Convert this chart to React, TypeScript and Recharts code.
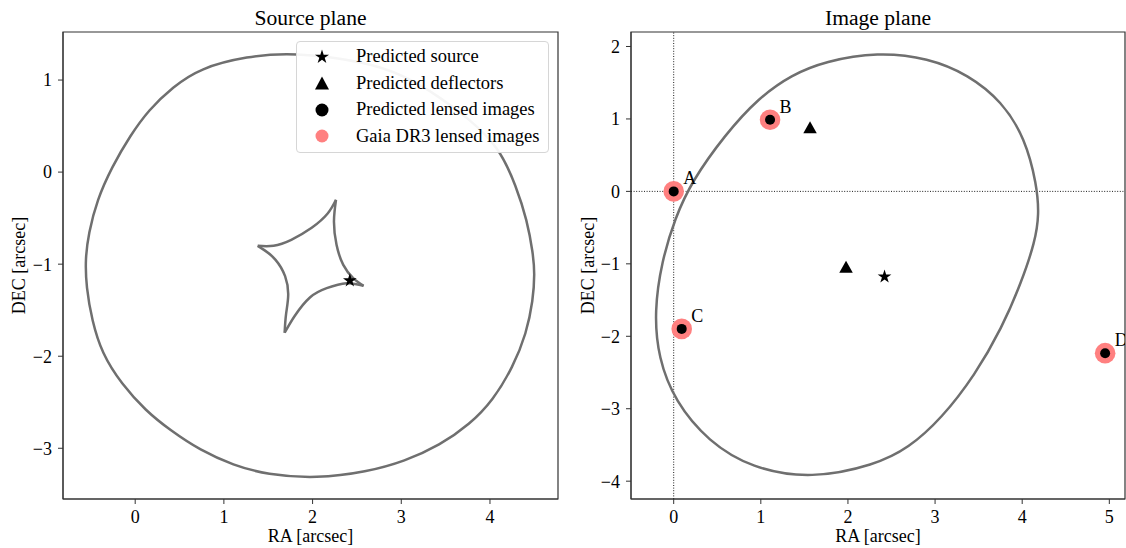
import React from 'react';
import { ComposedChart, Line, Scatter, XAxis, YAxis, ReferenceLine, ReferenceArea, Legend, Label } from 'recharts';

const FONT = '"Liberation Serif", "Times New Roman", Times, serif';
const CURVE = '#6f6f6f';
const AXIS = '#333333';
const RED = '#ff8080';

// ---------- Source plane ----------
const sourceCaustic = [
  { x: -0.563, y: -0.946 }, { x: -0.526, y: -0.667 }, { x: -0.431, y: -0.304 }, { x: -0.262, y: 0.058 },
  { x: -0.056, y: 0.397 }, { x: 0.150, y: 0.674 }, { x: 0.422, y: 0.924 }, { x: 0.732, y: 1.130 },
  { x: 1.258, y: 1.258 }, { x: 1.783, y: 1.301 }, { x: 2.571, y: 1.203 }, { x: 3.021, y: 1.058 },
  { x: 3.435, y: 0.815 }, { x: 3.753, y: 0.587 }, { x: 4.103, y: 0.275 }, { x: 4.298, y: -0.16 },
  { x: 4.418, y: -0.522 }, { x: 4.486, y: -0.884 }, { x: 4.505, y: -1.101 }, { x: 4.486, y: -1.391 },
  { x: 4.411, y: -1.753 }, { x: 4.26, y: -2.116 }, { x: 4.035, y: -2.478 }, { x: 3.773, y: -2.739 },
  { x: 3.435, y: -2.967 }, { x: 3.041, y: -3.141 }, { x: 2.609, y: -3.258 }, { x: 2.046, y: -3.329 },
  { x: 1.483, y: -3.286 }, { x: 1.107, y: -3.185 }, { x: 0.732, y: -3.022 }, { x: 0.394, y: -2.804 },
  { x: 0.118, y: -2.592 }, { x: -0.155, y: -2.301 }, { x: -0.375, y: -1.971 }, { x: -0.488, y: -1.609 },
  { x: -0.552, y: -1.247 },
];
const causticEdgeA = [
  { x: 1.381, y: -0.801 }, { x: 1.56, y: -0.80 }, { x: 1.76, y: -0.735 }, { x: 1.99, y: -0.605 },
  { x: 2.17, y: -0.45 }, { x: 2.264, y: -0.301 },
];
const causticEdgeB = [
  { x: 2.264, y: -0.301 }, { x: 2.241, y: -0.536 }, { x: 2.27, y: -0.79 }, { x: 2.346, y: -1.008 },
  { x: 2.458, y: -1.152 }, { x: 2.575, y: -1.236 },
];
const causticEdgeC = [
  { x: 2.575, y: -1.236 }, { x: 2.384, y: -1.207 }, { x: 2.159, y: -1.261 }, { x: 1.97, y: -1.362 },
  { x: 1.80, y: -1.56 }, { x: 1.685, y: -1.745 },
];
const causticEdgeD = [
  { x: 1.685, y: -1.745 }, { x: 1.70, y: -1.55 }, { x: 1.725, y: -1.34 }, { x: 1.69, y: -1.13 },
  { x: 1.58, y: -0.95 }, { x: 1.46, y: -0.85 }, { x: 1.381, y: -0.801 },
];
const predictedSource = [{ x: 2.42, y: -1.178 }];
const sourceTicksX = [0, 1, 2, 3, 4];
const sourceTicksY = [-3, -2, -1, 0, 1];
const sourceDomainX = [-0.814, 4.767];
const sourceDomainY = [-3.551, 1.522];

// ---------- Image plane ----------
const criticalCurve = [
  { x: 2.34, y: 1.925 }, { x: 1.737, y: 1.796 }, { x: 1.355, y: 1.611 }, { x: 0.972, y: 1.289 },
  { x: 0.589, y: 0.782 }, { x: 0.207, y: 0.138 }, { x: 0.015, y: -0.369 }, { x: -0.138, y: -0.967 },
  { x: -0.223, y: -1.657 }, { x: -0.177, y: -2.302 }, { x: 0.015, y: -2.9 }, { x: 0.397, y: -3.453 },
  { x: 0.895, y: -3.822 }, { x: 1.584, y: -3.97 }, { x: 2.311, y: -3.776 }, { x: 2.694, y: -3.546 },
  { x: 3.077, y: -3.131 }, { x: 3.459, y: -2.533 }, { x: 3.766, y: -1.888 }, { x: 3.995, y: -1.243 },
  { x: 4.148, y: -0.691 }, { x: 4.194, y: -0.323 }, { x: 4.168, y: 0.091 }, { x: 4.033, y: 0.736 },
  { x: 3.766, y: 1.243 }, { x: 3.382, y: 1.611 }, { x: 2.923, y: 1.841 },
];
const deflectors = [{ x: 1.565, y: 0.884 }, { x: 1.978, y: -1.041 }];
const gaiaImages = [
  { x: 0.0, y: 0.0, name: 'A' },
  { x: 1.106, y: 0.989, name: 'B' },
  { x: 0.092, y: -1.898, name: 'C' },
  { x: 4.952, y: -2.233, name: 'D' },
];
const predictedImages = [
  { x: 0.0, y: 0.0 },
  { x: 1.106, y: 0.989 },
  { x: 0.092, y: -1.898 },
  { x: 4.952, y: -2.233 },
];
const imageTicksX = [0, 1, 2, 3, 4, 5];
const imageTicksY = [-4, -3, -2, -1, 0, 1, 2];
const imageDomainX = [-0.49, 5.18];
const imageDomainY = [-4.246, 2.2];

const legendLabels = ['Predicted source', 'Predicted deflectors', 'Predicted lensed images', 'Gaia DR3 lensed images'];

// ---------- helpers ----------
const fmt = (v: number) => (v < 0 ? '\u2212' + Math.abs(v) : String(v));
const tickStyle = { fill: '#000', fontSize: 18, fontFamily: FONT };

const starPath = (cx: number, cy: number, R: number) => {
  let d = '';
  for (let i = 0; i < 10; i++) {
    const r = i % 2 === 0 ? R : R * 0.381;
    const a = -Math.PI / 2 + (i * Math.PI) / 5;
    d += (i ? 'L' : 'M') + (cx + r * Math.cos(a)).toFixed(2) + ',' + (cy + r * Math.sin(a)).toFixed(2);
  }
  return d + 'Z';
};
const triPath = (cx: number, cy: number, w: number, h: number) =>
  `M${cx},${cy - h / 2}L${cx + w / 2},${cy + h / 2}L${cx - w / 2},${cy + h / 2}Z`;

const StarShape = (p: any) => <path d={starPath(p.cx, p.cy, 7.2)} fill="#000" />;
const TriShape = (p: any) => <path d={triPath(p.cx, p.cy, 13.5, 12)} fill="#000" />;
const DotShape = (p: any) => <circle cx={p.cx} cy={p.cy} r={5} fill="#000" />;
const GaiaShape = (p: any) => (
  <g>
    <circle cx={p.cx} cy={p.cy} r={10.3} fill={RED} />
    <text x={p.cx + 9.5} y={p.cy - 7} fontSize={18} fontFamily={FONT} fill="#000">
      {p.payload && p.payload.name}
    </text>
  </g>
);

const yLabel = (cx: number) => (props: any) => {
  const vb = (props && props.viewBox) || {};
  const cy = typeof vb.y === 'number' && typeof vb.height === 'number' ? vb.y + vb.height / 2 : 265.5;
  return (
    <text x={cx} y={cy} transform={`rotate(-90, ${cx}, ${cy})`} textAnchor="middle" dominantBaseline="central"
      fontSize={18} fontFamily={FONT} fill="#000">DEC [arcsec]</text>
  );
};

const legendMarker = (i: number) => {
  if (i === 0) return <path d={starPath(10, 10, 7.4)} fill="#000" />;
  if (i === 1) return <path d={triPath(10, 10, 14, 13)} fill="#000" />;
  if (i === 2) return <circle cx={10} cy={10} r={6.5} fill="#000" />;
  return <circle cx={10} cy={10} r={6.5} fill={RED} />;
};

const LegendBox = () => (
  <div style={{
    width: 253, height: 112, boxSizing: 'border-box', border: '1px solid #d6d6d6', borderRadius: 4,
    background: 'rgba(255,255,255,0.93)', paddingTop: 1, fontFamily: FONT, fontSize: 18.5, color: '#000',
  }}>
    {legendLabels.map((t, i) => (
      <div key={t} style={{ position: 'relative', height: 26.5 }}>
        <svg width={20} height={20} style={{ position: 'absolute', left: 15, top: 3.5 }}>{legendMarker(i)}</svg>
        <span style={{ position: 'absolute', left: 59, top: 1, lineHeight: '24px', whiteSpace: 'nowrap' }}>{t}</span>
      </div>
    ))}
  </div>
);

const curveLine = (data: any[], type: any, key: string) => (
  <Line key={key} data={data} dataKey="y" type={type} stroke={CURVE} strokeWidth={2.5} dot={false}
    activeDot={false} isAnimationActive={false} legendType="none" />
);

function SourcePlane() {
  return (
    <ComposedChart width={563} height={548} margin={{ top: 32, right: 5, bottom: 0, left: 0 }}>
      <XAxis type="number" dataKey="x" domain={sourceDomainX} ticks={sourceTicksX} allowDataOverflow interval={0}
        height={49} tickSize={5} tickMargin={6} tick={tickStyle} tickFormatter={fmt} stroke={AXIS}>
        <Label value="RA [arcsec]" position="insideBottom" offset={6} fill="#000" fontSize={18} fontFamily={FONT} />
      </XAxis>
      <YAxis type="number" dataKey="y" domain={sourceDomainY} ticks={sourceTicksY} allowDataOverflow interval={0}
        width={63} tickSize={5} tickMargin={6} tick={tickStyle} tickFormatter={fmt} stroke={AXIS}>
        <Label content={yLabel(19)} />
      </YAxis>
      <ReferenceArea x1={sourceDomainX[0]} x2={sourceDomainX[1]} y1={sourceDomainY[0]} y2={sourceDomainY[1]}
        fill="none" fillOpacity={0} stroke={AXIS} strokeWidth={1.2} ifOverflow="visible" />
      {curveLine(sourceCaustic, 'basisClosed', 'outer')}
      {curveLine(causticEdgeA, 'natural', 'ea')}
      {curveLine(causticEdgeB, 'natural', 'eb')}
      {curveLine(causticEdgeC, 'natural', 'ec')}
      {curveLine(causticEdgeD, 'natural', 'ed')}
      <Scatter data={predictedSource} dataKey="y" fill="#000" shape={StarShape} isAnimationActive={false} />
      <Legend layout="vertical" align="center" verticalAlign="middle" content={() => <LegendBox />}
        wrapperStyle={{ left: 296, top: 41, width: 253, height: 112, bottom: 'auto', right: 'auto' }} />
    </ComposedChart>
  );
}

function ImagePlane() {
  return (
    <ComposedChart width={563} height={548} margin={{ top: 32, right: 1, bottom: 0, left: 0 }}>
      <XAxis type="number" dataKey="x" domain={imageDomainX} ticks={imageTicksX} allowDataOverflow interval={0}
        height={49} tickSize={5} tickMargin={6} tick={tickStyle} tickFormatter={fmt} stroke={AXIS}>
        <Label value="RA [arcsec]" position="insideBottom" offset={6} fill="#000" fontSize={18} fontFamily={FONT} />
      </XAxis>
      <YAxis type="number" dataKey="y" domain={imageDomainY} ticks={imageTicksY} allowDataOverflow interval={0}
        width={68} tickSize={5} tickMargin={6} tick={tickStyle} tickFormatter={fmt} stroke={AXIS}>
        <Label content={yLabel(25)} />
      </YAxis>
      <ReferenceArea x1={imageDomainX[0]} x2={imageDomainX[1]} y1={imageDomainY[0]} y2={imageDomainY[1]}
        fill="none" fillOpacity={0} stroke={AXIS} strokeWidth={1.2} ifOverflow="visible" />
      <ReferenceLine x={0} stroke="#000" strokeWidth={0.9} strokeDasharray="1 1.6" />
      <ReferenceLine y={0} stroke="#000" strokeWidth={0.9} strokeDasharray="1 1.6" />
      {curveLine(criticalCurve, 'basisClosed', 'crit')}
      <Scatter data={gaiaImages} dataKey="y" fill={RED} shape={GaiaShape} isAnimationActive={false} />
      <Scatter data={predictedImages} dataKey="y" fill="#000" shape={DotShape} isAnimationActive={false} />
      <Scatter data={deflectors} dataKey="y" fill="#000" shape={TriShape} isAnimationActive={false} />
      <Scatter data={predictedSource} dataKey="y" fill="#000" shape={StarShape} isAnimationActive={false} />
    </ComposedChart>
  );
}

export default function App() {
  return (
    <div style={{ position: 'absolute', left: 0, top: 0, width: 1126, height: 548, background: '#fff', overflow: 'hidden', fontFamily: FONT }}>
      <div style={{ position: 'absolute', left: 0, top: 0 }}>
        <SourcePlane />
      </div>
      <div style={{ position: 'absolute', left: 563, top: 0 }}>
        <ImagePlane />
      </div>
      <svg width={1126} height={34} style={{ position: 'absolute', left: 0, top: 0, pointerEvents: 'none' }}>
        <text x={310.5} y={25} textAnchor="middle" fontSize={21.6} fontFamily={FONT} fill="#000">Source plane</text>
        <text x={878} y={25} textAnchor="middle" fontSize={21.6} fontFamily={FONT} fill="#000">Image plane</text>
      </svg>
    </div>
  );
}
